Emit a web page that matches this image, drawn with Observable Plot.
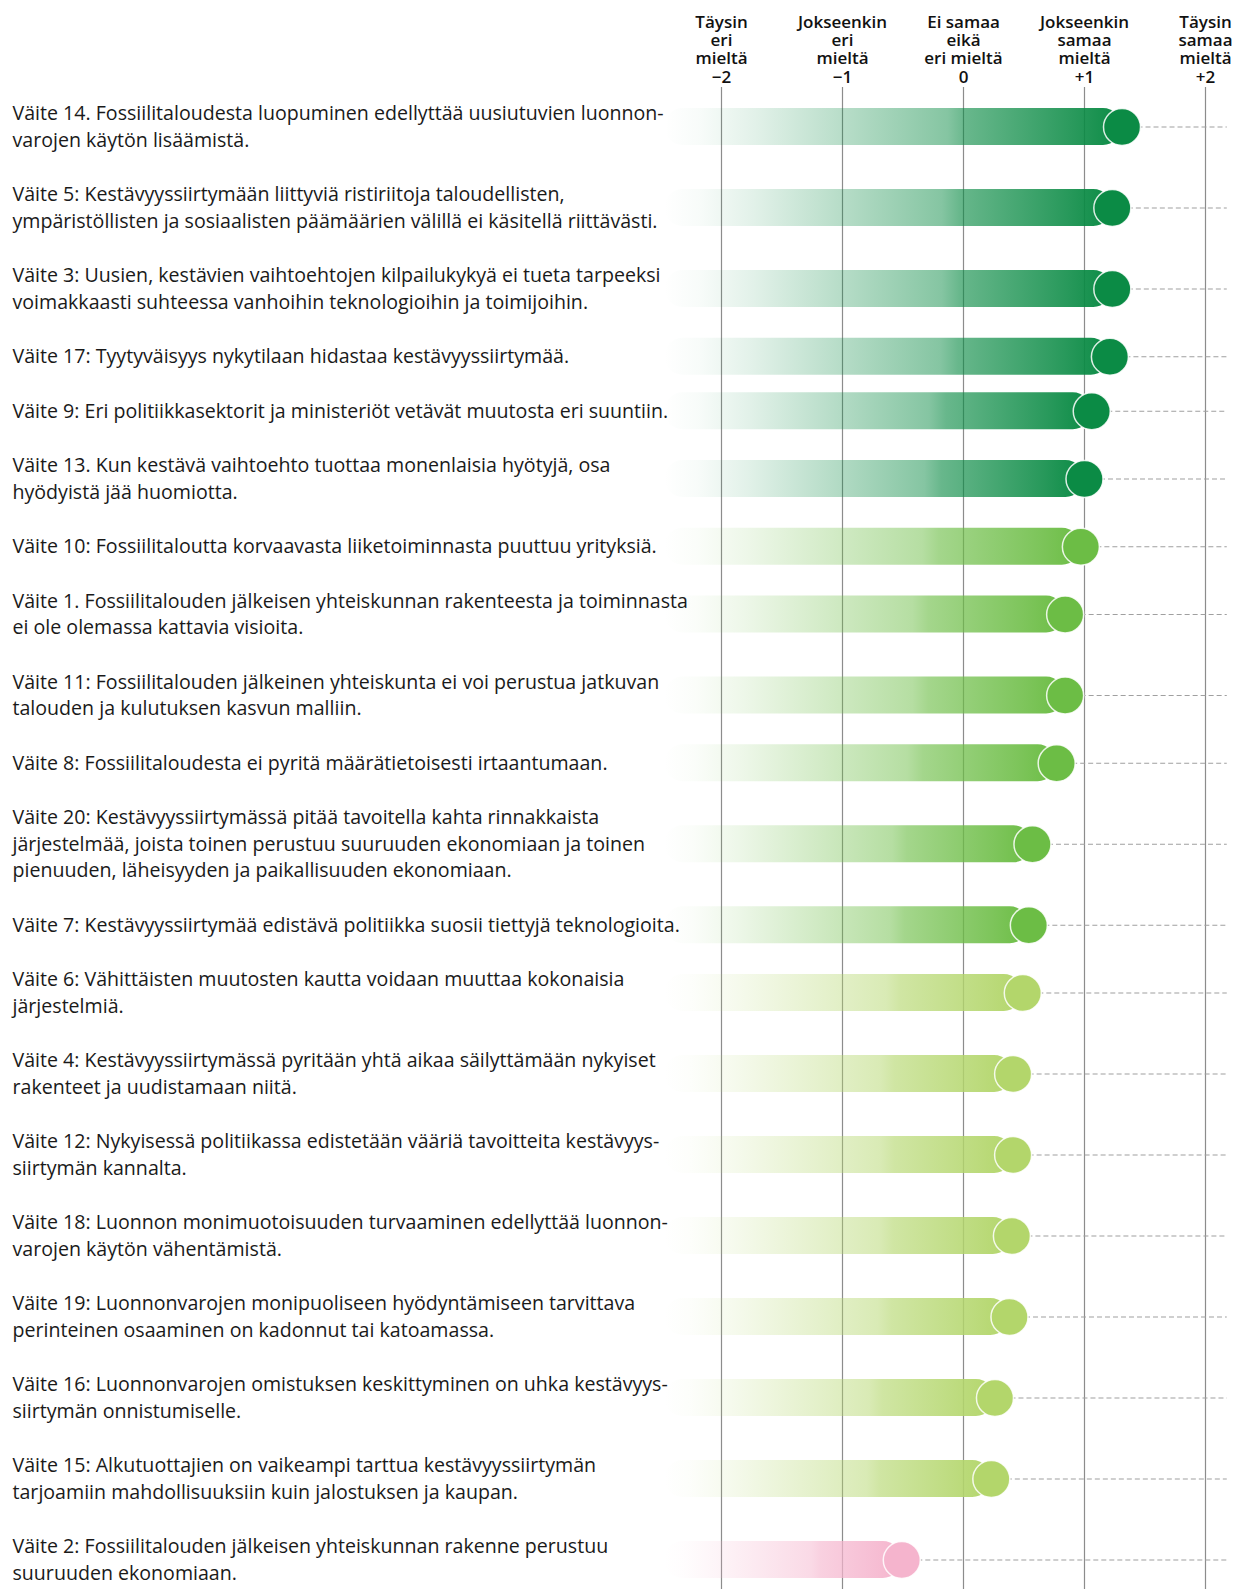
<!DOCTYPE html>
<html><head><meta charset="utf-8">
<script src="https://cdn.jsdelivr.net/npm/d3@7"></script>
<script src="https://cdn.jsdelivr.net/npm/@observablehq/plot@0.6"></script>
<style>html,body{margin:0;padding:0;background:#fff} svg{display:block}</style>
</head><body><div id="chart"></div>
<script>
const statements = [
"Väite 14. Fossiilitaloudesta luopuminen edellyttää uusiutuvien luonnon-\nvarojen käytön lisäämistä.",
"Väite 5: Kestävyyssiirtymään liittyviä ristiriitoja taloudellisten,\nympäristöllisten ja sosiaalisten päämäärien välillä ei käsitellä riittävästi.",
"Väite 3: Uusien, kestävien vaihtoehtojen kilpailukykyä ei tueta tarpeeksi\nvoimakkaasti suhteessa vanhoihin teknologioihin ja toimijoihin.",
"Väite 17: Tyytyväisyys nykytilaan hidastaa kestävyyssiirtymää.",
"Väite 9: Eri politiikkasektorit ja ministeriöt vetävät muutosta eri suuntiin.",
"Väite 13. Kun kestävä vaihtoehto tuottaa monenlaisia hyötyjä, osa\nhyödyistä jää huomiotta.",
"Väite 10: Fossiilitaloutta korvaavasta liiketoiminnasta puuttuu yrityksiä.",
"Väite 1. Fossiilitalouden jälkeisen yhteiskunnan rakenteesta ja toiminnasta\nei ole olemassa kattavia visioita.",
"Väite 11: Fossiilitalouden jälkeinen yhteiskunta ei voi perustua jatkuvan\ntalouden ja kulutuksen kasvun malliin.",
"Väite 8: Fossiilitaloudesta ei pyritä määrätietoisesti irtaantumaan.",
"Väite 20: Kestävyyssiirtymässä pitää tavoitella kahta rinnakkaista\njärjestelmää, joista toinen perustuu suuruuden ekonomiaan ja toinen\npienuuden, läheisyyden ja paikallisuuden ekonomiaan.",
"Väite 7: Kestävyyssiirtymää edistävä politiikka suosii tiettyjä teknologioita.",
"Väite 6: Vähittäisten muutosten kautta voidaan muuttaa kokonaisia\njärjestelmiä.",
"Väite 4: Kestävyyssiirtymässä pyritään yhtä aikaa säilyttämään nykyiset\nrakenteet ja uudistamaan niitä.",
"Väite 12: Nykyisessä politiikassa edistetään vääriä tavoitteita kestävyys-\nsiirtymän kannalta.",
"Väite 18: Luonnon monimuotoisuuden turvaaminen edellyttää luonnon-\nvarojen käytön vähentämistä.",
"Väite 19: Luonnonvarojen monipuoliseen hyödyntämiseen tarvittava\nperinteinen osaaminen on kadonnut tai katoamassa.",
"Väite 16: Luonnonvarojen omistuksen keskittyminen on uhka kestävyys-\nsiirtymän onnistumiselle.",
"Väite 15: Alkutuottajien on vaikeampi tarttua kestävyyssiirtymän\ntarjoamiin mahdollisuuksiin kuin jalostuksen ja kaupan.",
"Väite 2: Fossiilitalouden jälkeisen yhteiskunnan rakenne perustuu\nsuuruuden ekonomiaan."
];
const means = [1.31, 1.23, 1.23, 1.21, 1.06, 1.00, 0.97, 0.84, 0.84, 0.77, 0.57, 0.54, 0.49, 0.41, 0.41, 0.40, 0.38, 0.26, 0.23, -0.51];
const groups = ["dark","dark","dark","dark","dark","dark",
                "medium","medium","medium","medium","medium","medium",
                "light","light","light","light","light","light","light",
                "pink"];
const scaleTicks = [-2, -1, 0, 1, 2];
const scaleLabels = ["Täysin\neri\nmieltä\n−2", "Jokseenkin\neri\nmieltä\n−1", "Ei samaa\neikä\neri mieltä\n0", "Jokseenkin\nsamaa\nmieltä\n+1", "Täysin\nsamaa\nmieltä\n+2"];
const palette = {dark: "#0b8b45", medium: "#6cbd45", light: "#b3d66b", pink: "#f5b4cd"};

// layout
const W = 1237, H = 1589;
const fontSize = 19.6, lineH = 26.5, gap = 28, top0 = 100, barHalf = 18.5, barStart = -2.47, dashEnd = 2.18;
const headSize = 17, headLine = 18.2;
let cursor = 0;
const rows = statements.map((s, i) => {
  const n = s.split("\n").length;
  const c = cursor + n * lineH / 2;
  cursor += n * lineH + gap;
  return {label: s, mean: means[i], group: groups[i], pos: c};
});

const plot = Plot.plot({
  width: W, height: H,
  marginTop: 87, marginBottom: 0, marginLeft: 12, marginRight: 10,
  x: {domain: [-2, 2], range: [721, 1205], axis: null},
  y: {domain: [0, cursor], range: [top0, top0 + cursor], axis: null},
  color: {type: "identity"},
  style: {fontFamily: "'Open Sans', Lato, sans-serif", background: "white", overflow: "visible"},
  marks: [
    Plot.ruleX(scaleTicks, {stroke: "#8c8c8c", strokeWidth: 1.2}),
    Plot.ruleY(rows, {y: "pos", x1: "mean", x2: () => dashEnd, stroke: "#a0a0a0", strokeDasharray: "5,3", strokeWidth: 1.1}),
    ...Object.keys(palette).map(g => Plot.rect(rows.filter(r => r.group === g), {
      x1: () => barStart, x2: "mean",
      y1: d => d.pos - barHalf, y2: d => d.pos + barHalf,
      rx: barHalf, fill: `url(#grad-${g})`
    })),
    Plot.dot(rows, {x: "mean", y: "pos", r: barHalf, fill: d => palette[d.group], stroke: "white", strokeOpacity: 0.85, strokeWidth: 1.5}),
    Plot.text(rows, {y: "pos", text: "label", frameAnchor: "left", textAnchor: "start", dy: -2, lineHeight: lineH / fontSize, fontSize, fill: "#1a1a1a"}),
    Plot.text(scaleTicks, {x: d => d, text: (d, i) => scaleLabels[i], frameAnchor: "top", lineAnchor: "bottom", dy: -5, fontWeight: 600, fontSize: headSize, lineHeight: headLine / headSize, fill: "#111"})
  ]
});

// gradient definitions
const ns = "http://www.w3.org/2000/svg";
const defs = document.createElementNS(ns, "defs");
const stops = [[0, 0], [0.08, 0.03], [0.2, 0.12], [0.4, 0.3], [0.62, 0.5], [0.66, 0.62], [0.9, 0.88], [1, 1]];
for (const [g, col] of Object.entries(palette)) {
  const lg = document.createElementNS(ns, "linearGradient");
  lg.setAttribute("id", `grad-${g}`);
  lg.setAttribute("x1", "0"); lg.setAttribute("x2", "1"); lg.setAttribute("y1", "0"); lg.setAttribute("y2", "0");
  for (const [o, a] of stops) {
    const st = document.createElementNS(ns, "stop");
    st.setAttribute("offset", o);
    st.setAttribute("stop-color", col);
    st.setAttribute("stop-opacity", a);
    lg.appendChild(st);
  }
  defs.appendChild(lg);
}
plot.insertBefore(defs, plot.firstChild);
document.getElementById("chart").appendChild(plot);
</script>
</body></html>
